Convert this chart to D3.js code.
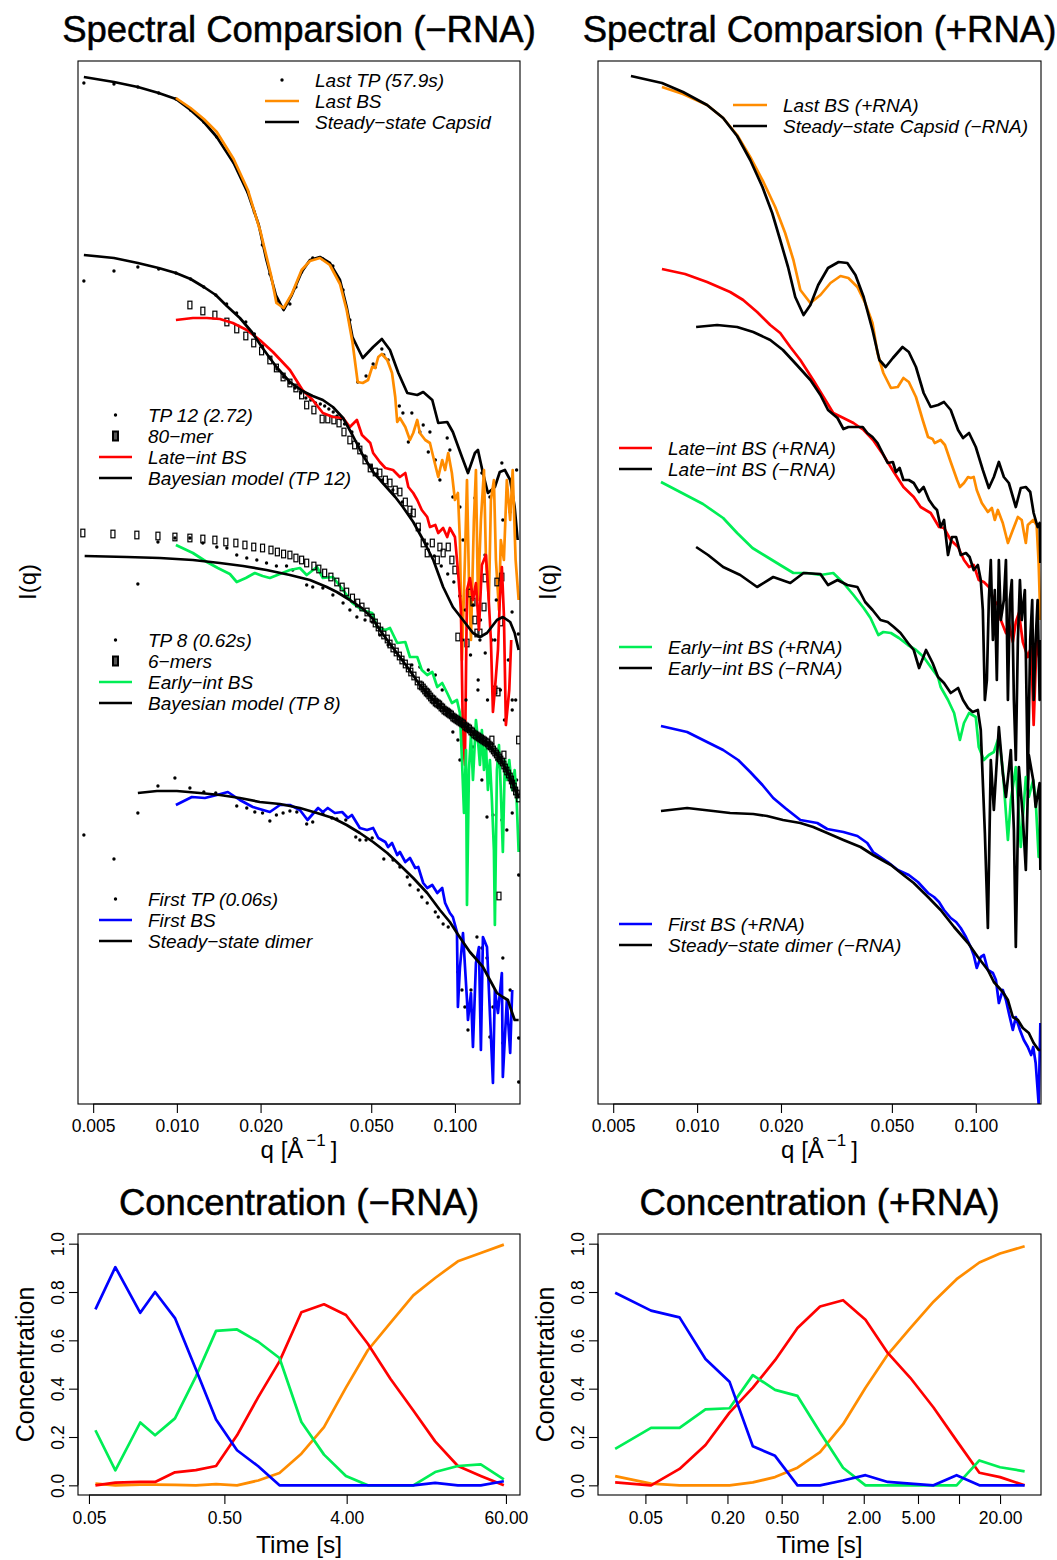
<!DOCTYPE html>
<html>
<head>
<meta charset="utf-8">
<script src="https://cdn.jsdelivr.net/npm/d3@7"></script>
<style>
  body { margin: 0; background: #fff; }
  svg text { font-family: "Liberation Sans", Arial, Helvetica, sans-serif; fill: #000; }
</style>
</head>
<body>
<svg id="fig" width="1057" height="1560"></svg>
<script>
// ---------------------------------------------------------------------------
// Scattering profiles: [q (1/Å), log10 I(q) with a vertical offset per stack]
// ---------------------------------------------------------------------------

// -RNA panel, top stack (last time point)
const lastTP = [[0.00463,10.21],[0.00594,10.20],[0.00724,10.17],[0.0086,10.11],[0.00992,10.05],[0.0112,9.94],[0.0125,9.82],[0.01392,9.67],[0.0160,9.42],[0.0180,9.12],[0.0190,8.92],[0.0203,8.59],[0.0216,8.30],[0.0229,8.03],[0.0242,7.96],[0.0255,8.00],[0.0268,8.17],[0.0281,8.32],[0.0308,8.46],[0.0335,8.45],[0.0364,8.38],[0.0396,8.14],[0.0419,7.84],[0.0447,7.22],[0.0479,7.28],[0.0508,7.40],[0.0517,7.37],[0.0546,7.55],[0.0555,7.49],[0.0575,7.44],[0.0631,6.98],[0.0650,6.91],[0.0680,6.62],[0.0700,6.91],[0.0732,6.81],[0.0748,6.72],[0.0769,6.79],[0.0802,6.52],[0.0813,6.72],[0.0850,6.44],[0.0883,6.24],[0.0938,6.66],[0.0959,6.54],[0.0983,6.07],[0.1042,5.97],[0.1069,5.64],[0.1114,5.14],[0.1180,6.06],[0.1230,4.64],[0.1250,6.31],[0.1283,5.49],[0.1336,6.07],[0.1392,4.64],[0.1475,6.41],[0.1487,5.84],[0.1580,5.92],[0.1607,4.04],[0.1667,6.34]];
const lastBS = [[0.00992,10.06],[0.0112,9.96],[0.0125,9.85],[0.01392,9.72],[0.0160,9.45],[0.0180,9.14],[0.0200,8.72],[0.0218,8.29],[0.0228,8.01],[0.0242,7.96],[0.0259,8.10],[0.0281,8.34],[0.0301,8.43],[0.0327,8.46],[0.0355,8.39],[0.0386,8.20],[0.0408,7.94],[0.0428,7.62],[0.0447,7.22],[0.0466,7.21],[0.0487,7.24],[0.0504,7.37],[0.0517,7.36],[0.0530,7.47],[0.0546,7.50],[0.0571,7.44],[0.0594,7.31],[0.0610,7.07],[0.0620,6.82],[0.0634,6.86],[0.0663,6.77],[0.0689,6.64],[0.0708,6.71],[0.0732,6.84],[0.0748,6.71],[0.0782,6.64],[0.0813,6.61],[0.0836,6.47],[0.0871,6.27],[0.0900,6.44],[0.0922,6.34],[0.0946,6.51],[0.0975,6.31],[0.1000,6.04],[0.1025,6.11],[0.1042,5.64],[0.1060,4.44],[0.1086,5.44],[0.1105,6.24],[0.1123,5.24],[0.1142,4.64],[0.1170,5.84],[0.1190,6.34],[0.1210,5.04],[0.1240,5.84],[0.1272,6.34],[0.1293,5.44],[0.1325,5.04],[0.1347,6.04],[0.1381,6.24],[0.1404,5.44],[0.1440,4.94],[0.1462,5.64],[0.1500,5.44],[0.1537,6.24],[0.1580,5.84],[0.1613,6.34],[0.1653,5.44],[0.1695,5.04]];
const capsidSteady = [[0.00463,10.27],[0.00594,10.22],[0.00724,10.17],[0.0086,10.11],[0.00992,10.05],[0.0112,9.94],[0.0125,9.82],[0.01392,9.67],[0.0160,9.41],[0.0180,9.11],[0.0197,8.79],[0.0210,8.44],[0.0227,8.09],[0.0242,7.94],[0.0259,8.09],[0.0281,8.32],[0.0301,8.44],[0.0327,8.47],[0.0355,8.41],[0.0386,8.24],[0.0408,7.97],[0.0428,7.67],[0.0466,7.46],[0.0508,7.57],[0.0546,7.65],[0.0584,7.54],[0.0626,7.31],[0.0674,7.11],[0.0732,7.09],[0.0769,7.12],[0.0829,7.04],[0.0871,6.81],[0.0938,6.82],[0.0983,6.72],[0.106,6.47],[0.1114,6.31],[0.118,6.51],[0.121,6.54],[0.1261,6.31],[0.1314,6.11],[0.1392,6.17],[0.145,6.32],[0.1512,6.34],[0.158,6.24],[0.164,5.97],[0.1681,5.64]];

// -RNA panel, second stack (TP 12)
const tp12 = [[0.00463,8.23],[0.00594,8.33],[0.00724,8.37],[0.0086,8.35],[0.00992,8.31],[0.0112,8.25],[0.0125,8.17],[0.0138,8.09],[0.0151,8.00],[0.0164,7.91],[0.0177,7.82],[0.0190,7.70],[0.0203,7.58],[0.0216,7.46],[0.0229,7.35],[0.0242,7.27],[0.0254,7.21],[0.0266,7.16],[0.0279,7.11],[0.0291,7.06],[0.0303,7.04],[0.0315,7.01],[0.0328,7.00],[0.0340,6.98],[0.0352,6.95],[0.0365,6.92],[0.0377,6.88],[0.0389,6.85],[0.0401,6.80],[0.0426,6.72],[0.0450,6.60],[0.0475,6.48],[0.0500,6.38],[0.0524,6.30],[0.0549,6.24],[0.0598,6.14],[0.0647,6.02],[0.0696,5.88],[0.0745,5.74],[0.0794,5.60],[0.0843,5.48],[0.0893,5.38],[0.0942,5.30],[0.0991,5.22],[0.1040,5.08],[0.1065,4.64],[0.1090,4.94],[0.1138,4.49],[0.1163,4.99],[0.1212,4.24],[0.1236,4.84],[0.1285,4.51],[0.1310,4.04],[0.1359,4.64],[0.1408,5.04],[0.1457,4.14],[0.1507,3.84],[0.1556,4.44],[0.1605,4.92],[0.1654,4.04],[0.1690,4.70]];
const mer80 = [[0.01114,7.99],[0.0124,7.93],[0.0137,7.89],[0.01513,7.82],[0.01642,7.75],[0.0177,7.68],[0.0189,7.61],[0.02017,7.53],[0.0216,7.44],[0.0228,7.36],[0.0241,7.27],[0.0255,7.21],[0.0268,7.16],[0.0281,7.09],[0.0293,6.99],[0.0311,6.94],[0.0333,6.85],[0.0349,6.85],[0.0367,6.84],[0.0383,6.81],[0.0399,6.72],[0.0419,6.64],[0.0436,6.59],[0.0455,6.54],[0.0475,6.44],[0.0496,6.36],[0.0517,6.32],[0.0537,6.31],[0.0562,6.24],[0.0584,6.21],[0.0610,6.14],[0.0634,6.12],[0.0663,6.02],[0.0689,5.94],[0.0708,5.91],[0.0738,5.77],[0.0769,5.61],[0.0795,5.51],[0.0829,5.61],[0.0864,5.44],[0.0883,5.57],[0.0907,5.51],[0.0946,5.57],[0.0975,5.44],[0.1000,5.34],[0.1025,4.67],[0.1105,4.61],[0.1132,5.11],[0.1161,5.02],[0.1180,4.84],[0.1200,4.71],[0.1230,4.71],[0.1272,4.97],[0.1283,5.26],[0.1392,4.14],[0.1428,4.12],[0.1462,4.82],[0.1475,5.27],[0.1416,5.22],[0.1358,3.64],[0.1500,3.49],[0.1695,3.64]];
const lateBS = [[0.00992,7.84],[0.01142,7.86],[0.01282,7.86],[0.01428,7.85],[0.0159,7.81],[0.01784,7.74],[0.01987,7.64],[0.02216,7.52],[0.0255,7.34],[0.0283,7.14],[0.0308,7.04],[0.0335,6.91],[0.0364,6.87],[0.0396,6.86],[0.0419,6.77],[0.0444,6.84],[0.0463,6.69],[0.0496,6.61],[0.0508,6.51],[0.0537,6.42],[0.0562,6.36],[0.0599,6.34],[0.0634,6.27],[0.0663,6.31],[0.0680,6.17],[0.0708,6.11],[0.0732,6.04],[0.0760,5.94],[0.0795,5.87],[0.0813,5.77],[0.0850,5.79],[0.0871,5.71],[0.0907,5.76],[0.0938,5.67],[0.0959,5.76],[0.1000,5.67],[0.1025,5.34],[0.1051,4.94],[0.1069,3.64],[0.1086,3.39],[0.1105,5.14],[0.1132,5.26],[0.1161,5.04],[0.1190,5.21],[0.1220,4.74],[0.1250,5.39],[0.1293,5.49],[0.1314,5.19],[0.1347,4.64],[0.1370,3.92],[0.1392,4.14],[0.1428,4.54],[0.1450,5.04],[0.1475,5.37],[0.1500,4.89],[0.1525,3.79],[0.1568,4.14],[0.1594,4.64]];
const bayesTP12 = [[0.00463,8.49],[0.00594,8.46],[0.00724,8.41],[0.0086,8.36],[0.00992,8.31],[0.0112,8.25],[0.0125,8.17],[0.0138,8.09],[0.01513,7.98],[0.01685,7.86],[0.0186,7.72],[0.02033,7.56],[0.0228,7.37],[0.0255,7.22],[0.0283,7.13],[0.0308,7.08],[0.0335,7.04],[0.0364,6.97],[0.0396,6.86],[0.0428,6.69],[0.0466,6.49],[0.0508,6.32],[0.0550,6.21],[0.0610,6.07],[0.0650,5.97],[0.0708,5.82],[0.0769,5.64],[0.0836,5.44],[0.0907,5.17],[0.0983,4.97],[0.1069,4.84],[0.1161,4.71],[0.1230,4.67],[0.1304,4.71],[0.1416,4.84],[0.1487,4.87],[0.1580,4.82],[0.1640,4.71],[0.1695,4.54]];

// -RNA panel, third stack (TP 8)
const tp8 = [[0.00724,5.20],[0.00855,5.62],[0.00984,5.66],[0.01114,5.66],[0.0124,5.61],[0.01392,5.57],[0.01513,5.56],[0.01642,5.49],[0.01784,5.46],[0.01939,5.44],[0.02101,5.41],[0.0228,5.38],[0.0248,5.38],[0.0261,5.34],[0.0293,5.19],[0.0308,5.17],[0.0335,5.16],[0.0364,5.09],[0.0396,5.01],[0.0419,4.94],[0.0444,4.87],[0.0475,4.84],[0.0504,4.82],[0.0537,4.69],[0.0575,4.59],[0.0610,4.52],[0.0650,4.44],[0.0700,4.39],[0.0748,4.37],[0.0802,4.34],[0.0850,4.29],[0.0900,4.14],[0.0946,3.94],[0.0983,3.72],[0.1025,3.64],[0.1042,3.44],[0.1096,4.04],[0.1161,3.57],[0.1210,4.14],[0.1250,3.24],[0.1304,2.87],[0.1370,2.89],[0.1416,3.44],[0.1475,2.84],[0.1537,2.74],[0.1607,2.91],[0.1607,3.94],[0.1667,3.24]];
const mer6 = [[0.00459,5.71],[0.00589,5.70],[0.00718,5.69],[0.00855,5.68],[0.00984,5.67],[0.01114,5.66],[0.0124,5.65],[0.0137,5.64],[0.0150,5.62],[0.0163,5.61],[0.01757,5.59],[0.0189,5.57],[0.02033,5.56],[0.0218,5.54],[0.02298,5.52],[0.0242,5.50],[0.0255,5.49],[0.0268,5.46],[0.0281,5.44],[0.0293,5.41],[0.0311,5.38],[0.0324,5.35],[0.0340,5.31],[0.0358,5.27],[0.0376,5.22],[0.0393,5.17],[0.0408,5.12],[0.0428,5.06],[0.0447,5.01],[0.0463,4.97],[0.0483,4.92],[0.0504,4.86],[0.0517,4.81],[0.0530,4.77],[0.0541,4.73],[0.0555,4.69],[0.0571,4.65],[0.0584,4.60],[0.0599,4.56],[0.0615,4.52],[0.0631,4.48],[0.0645,4.44],[0.0663,4.40],[0.0680,4.36],[0.0694,4.32],[0.0712,4.28],[0.0732,4.23],[0.0748,4.19],[0.0758,4.18],[0.0769,4.16],[0.0779,4.14],[0.0789,4.12],[0.0798,4.11],[0.0807,4.09],[0.0818,4.07],[0.0829,4.05],[0.0839,4.04],[0.0850,4.02],[0.0860,4.01],[0.0871,4.00],[0.0881,3.99],[0.0892,3.97],[0.0903,3.96],[0.0914,3.94],[0.0926,3.93],[0.0938,3.92],[0.0948,3.91],[0.0959,3.90],[0.0971,3.89],[0.0983,3.87],[0.0995,3.86],[0.1008,3.85],[0.1020,3.84],[0.1033,3.83],[0.1046,3.82],[0.1060,3.81],[0.1073,3.80],[0.1086,3.78],[0.1100,3.77],[0.1114,3.76],[0.1128,3.75],[0.1142,3.73],[0.1156,3.72],[0.1170,3.70],[0.1185,3.69],[0.1200,3.68],[0.1215,3.67],[0.1230,3.66],[0.1245,3.65],[0.1261,3.64],[0.1277,3.63],[0.1293,3.62],[0.1309,3.61],[0.1325,3.59],[0.1341,3.58],[0.1358,3.56],[0.1375,3.54],[0.1392,3.52],[0.1410,3.50],[0.1428,3.48],[0.1445,3.46],[0.1462,3.44],[0.1481,3.42],[0.1500,3.39],[0.1518,3.36],[0.1537,3.33],[0.1558,3.30],[0.1580,3.27],[0.1596,3.24],[0.1613,3.20],[0.1633,3.17],[0.1653,3.13],[0.1674,3.10],[0.1695,3.06],[0.1440,2.08]];
const earlyBS = [[0.00992,5.59],[0.01142,5.51],[0.01282,5.42],[0.01404,5.36],[0.01551,5.30],[0.01642,5.22],[0.0177,5.26],[0.01907,5.31],[0.02033,5.28],[0.0216,5.26],[0.02347,5.30],[0.0255,5.34],[0.0277,5.36],[0.0293,5.29],[0.0319,5.37],[0.0335,5.26],[0.0364,5.27],[0.0396,5.14],[0.0428,5.01],[0.0463,4.94],[0.0504,4.91],[0.0525,4.77],[0.0562,4.74],[0.0584,4.76],[0.0620,4.61],[0.0663,4.62],[0.0689,4.47],[0.0732,4.47],[0.0760,4.34],[0.0795,4.29],[0.0829,4.32],[0.0864,4.17],[0.0900,4.21],[0.0938,4.11],[0.0975,4.01],[0.1017,4.04],[0.1042,3.91],[0.1060,3.44],[0.1078,2.91],[0.1096,3.54],[0.1105,1.99],[0.1123,3.34],[0.1142,3.69],[0.1161,3.24],[0.1190,3.84],[0.1210,3.64],[0.1230,3.39],[0.1250,3.74],[0.1272,3.34],[0.1293,3.59],[0.1314,3.14],[0.1336,3.44],[0.1358,3.04],[0.1381,2.54],[0.1392,1.79],[0.1416,3.34],[0.1440,3.59],[0.1462,3.14],[0.1487,2.52],[0.1512,3.44],[0.1537,3.24],[0.1568,3.44],[0.1607,3.14],[0.1640,3.34],[0.1667,3.04],[0.1695,2.52]];
const bayesTP8 = [[0.00466,5.48],[0.00661,5.47],[0.00869,5.46],[0.01142,5.44],[0.01428,5.41],[0.0173,5.38],[0.02101,5.34],[0.0255,5.29],[0.0301,5.24],[0.0346,5.17],[0.0376,5.12],[0.0419,5.04],[0.0463,4.96],[0.0504,4.86],[0.0537,4.74],[0.0599,4.56],[0.0674,4.37],[0.0748,4.19],[0.0836,4.04],[0.0938,3.92],[0.1042,3.82],[0.1161,3.71],[0.1304,3.61],[0.1450,3.46],[0.1580,3.27],[0.1695,3.06]];

// -RNA panel, bottom stack (first time point)
const firstTP = [[0.00463,2.69],[0.00594,2.45],[0.00724,2.91],[0.00855,3.18],[0.00984,3.26],[0.01114,3.16],[0.0125,3.12],[0.0138,3.11],[0.01642,2.98],[0.01784,2.96],[0.01907,2.92],[0.02033,2.91],[0.0216,2.83],[0.0228,2.89],[0.0241,2.91],[0.0255,2.93],[0.0270,2.92],[0.0293,2.80],[0.0308,2.82],[0.0335,2.91],[0.0361,2.86],[0.0376,2.85],[0.0405,2.84],[0.0440,2.67],[0.0455,2.64],[0.0479,2.64],[0.0504,2.66],[0.0555,2.45],[0.0599,2.44],[0.0634,2.37],[0.0674,2.27],[0.0689,2.19],[0.0738,2.14],[0.0760,2.07],[0.0795,2.01],[0.0850,1.92],[0.0871,1.87],[0.0907,1.80],[0.0946,1.77],[0.1025,1.32],[0.1060,1.14],[0.1086,0.97],[0.1114,0.74],[0.1142,1.14],[0.1200,1.67],[0.1250,1.56],[0.1304,1.46],[0.1336,0.67],[0.1370,0.97],[0.1487,1.46],[0.1487,0.61],[0.1580,1.14],[0.1695,0.66],[0.1695,0.22],[0.1695,2.29]];
const firstBS = [[0.00992,2.99],[0.01132,3.07],[0.01261,3.06],[0.01392,3.09],[0.01525,3.12],[0.01685,3.04],[0.01876,2.97],[0.0216,2.92],[0.02347,2.99],[0.0255,2.99],[0.0277,2.94],[0.0295,2.84],[0.0322,2.96],[0.0335,2.92],[0.0349,2.96],[0.0370,2.91],[0.0393,2.92],[0.0412,2.86],[0.0426,2.89],[0.0455,2.76],[0.0483,2.74],[0.0508,2.76],[0.0530,2.66],[0.0562,2.62],[0.0575,2.57],[0.0594,2.61],[0.0620,2.49],[0.0634,2.52],[0.0663,2.42],[0.0689,2.46],[0.0720,2.36],[0.0738,2.37],[0.0769,2.21],[0.0795,2.16],[0.0829,2.19],[0.0864,2.11],[0.0900,2.16],[0.0922,2.01],[0.0959,1.91],[0.0983,1.87],[0.1017,1.72],[0.1025,0.97],[0.1042,1.36],[0.1069,1.71],[0.1105,1.04],[0.1114,0.84],[0.1142,1.11],[0.1161,0.57],[0.1190,1.41],[0.1220,1.57],[0.1240,0.54],[0.1261,1.67],[0.1304,1.57],[0.1314,1.37],[0.1370,0.21],[0.1392,1.14],[0.1428,0.91],[0.1475,1.31],[0.1487,0.27],[0.1537,1.04],[0.1580,0.51],[0.1607,1.14]];
const dimerSteady = [[0.00724,3.11],[0.00848,3.13],[0.0100,3.13],[0.0121,3.11],[0.01428,3.09],[0.01685,3.06],[0.01987,3.02],[0.02347,3.00],[0.0277,2.96],[0.0319,2.91],[0.0364,2.86],[0.0408,2.79],[0.0455,2.71],[0.0508,2.62],[0.0571,2.51],[0.0634,2.39],[0.0708,2.26],[0.0795,2.11],[0.0883,1.94],[0.0959,1.82],[0.1017,1.71],[0.1069,1.62],[0.1132,1.52],[0.1200,1.44],[0.1261,1.37],[0.1336,1.24],[0.1416,1.11],[0.1487,1.07],[0.1550,1.04],[0.1607,0.91],[0.1640,0.84],[0.1695,0.84]];

// +RNA panel basis spectra and their -RNA counterparts
const lastBSPlus = [[0.00748,10.17],[0.0089,10.10],[0.01086,9.99],[0.0124,9.86],[0.01392,9.69],[0.01551,9.47],[0.0173,9.22],[0.01907,8.97],[0.0207,8.71],[0.02216,8.44],[0.02347,8.14],[0.0255,8.01],[0.0277,8.09],[0.0301,8.21],[0.0327,8.28],[0.0349,8.26],[0.0376,8.17],[0.0401,8.01],[0.0426,7.81],[0.0444,7.51],[0.0466,7.31],[0.0496,7.16],[0.0525,7.17],[0.0550,7.26],[0.0575,7.22],[0.0610,7.07],[0.0645,6.84],[0.0674,6.67],[0.0700,6.65],[0.0712,6.61],[0.0748,6.64],[0.0775,6.59],[0.0813,6.42],[0.0857,6.24],[0.0877,6.17],[0.0907,6.21],[0.0938,6.27],[0.0959,6.26],[0.0983,6.27],[0.1008,6.14],[0.1051,6.01],[0.1105,5.92],[0.1142,5.96],[0.1170,5.84],[0.1200,5.94],[0.1250,5.81],[0.1304,5.61],[0.1358,5.74],[0.1416,5.87],[0.1462,5.84],[0.1487,5.72],[0.1512,5.61],[0.1537,5.79],[0.1607,5.84],[0.1653,5.79],[0.1681,5.41],[0.1705,4.84]];
const capsidMinus = [[0.00579,10.28],[0.00748,10.21],[0.0089,10.12],[0.01086,9.99],[0.0124,9.86],[0.01392,9.68],[0.01551,9.44],[0.01716,9.17],[0.0186,8.91],[0.01987,8.64],[0.0212,8.37],[0.0225,8.07],[0.0241,7.89],[0.0255,7.99],[0.0272,8.19],[0.0295,8.36],[0.0322,8.42],[0.0346,8.41],[0.0370,8.29],[0.0396,8.07],[0.0426,7.74],[0.0451,7.44],[0.0475,7.37],[0.0504,7.46],[0.0546,7.57],[0.0575,7.52],[0.0610,7.37],[0.0650,7.11],[0.0689,6.97],[0.0732,6.99],[0.0769,7.02],[0.0813,6.94],[0.0864,6.74],[0.0900,6.66],[0.0946,6.71],[0.1000,6.57],[0.1060,6.34],[0.1114,6.16],[0.1161,6.27],[0.1210,6.42],[0.1261,6.27],[0.1314,6.21],[0.1392,5.97],[0.1450,6.16],[0.1512,6.17],[0.1568,6.12],[0.1613,5.91],[0.1667,5.77],[0.1695,5.81],[0.1705,5.41]];
const lateBSPlus = [[0.00748,8.35],[0.00905,8.30],[0.01086,8.22],[0.01314,8.12],[0.01463,8.04],[0.01642,7.92],[0.0183,7.79],[0.01987,7.71],[0.0216,7.57],[0.02347,7.44],[0.0261,7.24],[0.0293,7.01],[0.0308,6.91],[0.0335,6.86],[0.0364,6.81],[0.0396,6.74],[0.0428,6.64],[0.0466,6.49],[0.0508,6.32],[0.0550,6.17],[0.0599,6.07],[0.0634,5.97],[0.0689,5.91],[0.0738,5.77],[0.0769,5.76],[0.0813,5.64],[0.0864,5.57],[0.0907,5.44],[0.0946,5.37],[0.0983,5.39],[0.1025,5.24],[0.1069,5.22],[0.1114,5.17],[0.1161,5.04],[0.1200,4.99],[0.1230,4.84],[0.1283,4.71],[0.1314,4.81],[0.1358,4.62],[0.1392,4.82],[0.1428,4.91],[0.1475,4.62],[0.1537,4.47],[0.1580,4.57],[0.1613,3.79],[0.1653,4.64],[0.1695,4.44],[0.1705,4.14]];
const lateBSMinus = [[0.00992,7.77],[0.0118,7.79],[0.01392,7.77],[0.0159,7.72],[0.0183,7.64],[0.02033,7.54],[0.0228,7.39],[0.0255,7.24],[0.0277,7.09],[0.0295,6.94],[0.0319,6.86],[0.0335,6.75],[0.0349,6.77],[0.0370,6.77],[0.0393,6.77],[0.0408,6.71],[0.0426,6.67],[0.0444,6.61],[0.0463,6.51],[0.0483,6.41],[0.0504,6.42],[0.0517,6.32],[0.0533,6.36],[0.0550,6.24],[0.0575,6.24],[0.0599,6.21],[0.0626,6.12],[0.0650,6.17],[0.0680,6.04],[0.0708,5.97],[0.0726,5.94],[0.0748,5.77],[0.0769,5.84],[0.0795,5.49],[0.0821,5.67],[0.0850,5.67],[0.0883,5.49],[0.0922,5.51],[0.0950,5.47],[0.0983,5.34],[0.1017,5.39],[0.1042,5.24],[0.1060,4.94],[0.1078,4.04],[0.1096,4.24],[0.1114,5.04],[0.1132,5.44],[0.1152,4.64],[0.1170,5.14],[0.1190,4.24],[0.1210,5.44],[0.1230,4.84],[0.1261,5.04],[0.1283,5.44],[0.1304,4.04],[0.1325,5.04],[0.1347,5.24],[0.1370,4.04],[0.1392,3.44],[0.1416,4.64],[0.1440,5.24],[0.1462,4.84],[0.1500,5.14],[0.1537,3.24],[0.1568,4.64],[0.1594,5.04],[0.1613,4.04],[0.1640,4.64],[0.1667,5.04],[0.1695,4.04],[0.1705,4.64]];
const earlyBSPlus = [[0.00742,6.22],[0.00869,6.12],[0.0105,6.00],[0.0124,5.86],[0.01392,5.71],[0.0158,5.56],[0.01784,5.47],[0.01987,5.39],[0.02216,5.31],[0.0248,5.31],[0.0277,5.29],[0.0308,5.31],[0.0335,5.21],[0.0364,5.09],[0.0396,4.96],[0.0419,4.86],[0.0447,4.69],[0.0466,4.72],[0.0496,4.71],[0.0530,4.66],[0.0571,4.59],[0.0610,4.54],[0.0650,4.47],[0.0689,4.37],[0.0732,4.27],[0.0748,4.17],[0.0795,4.04],[0.0836,3.91],[0.0877,3.64],[0.0907,3.81],[0.0946,3.91],[0.1000,3.87],[0.1025,3.57],[0.1069,3.44],[0.1114,3.49],[0.1161,3.52],[0.1210,3.67],[0.1250,3.34],[0.1304,2.64],[0.1336,3.04],[0.1392,3.37],[0.1450,2.57],[0.1512,3.27],[0.1550,3.07],[0.1607,3.24],[0.1640,3.04],[0.1681,2.47],[0.1705,2.84]];
const earlyBSMinus = [[0.00992,5.57],[0.01095,5.49],[0.0124,5.37],[0.01428,5.29],[0.01642,5.17],[0.01876,5.27],[0.0216,5.21],[0.0241,5.31],[0.0277,5.30],[0.0295,5.19],[0.0319,5.24],[0.0346,5.19],[0.0376,5.17],[0.0401,5.02],[0.0426,4.94],[0.0455,4.84],[0.0483,4.82],[0.0508,4.77],[0.0537,4.71],[0.0571,4.61],[0.0599,4.54],[0.0626,4.36],[0.0663,4.54],[0.0700,4.41],[0.0732,4.27],[0.0769,4.21],[0.0813,4.11],[0.0864,4.16],[0.0900,4.04],[0.0938,3.96],[0.0975,3.92],[0.1017,3.94],[0.1042,3.74],[0.1078,2.71],[0.1105,1.76],[0.1132,3.44],[0.1161,2.94],[0.1210,3.77],[0.1250,3.31],[0.1283,3.07],[0.1336,3.54],[0.1370,2.74],[0.1392,1.57],[0.1428,3.37],[0.1475,2.87],[0.1512,2.34],[0.1550,3.49],[0.1607,3.24],[0.1640,2.97],[0.1695,3.21],[0.1705,2.34]];
const firstBSPlus = [[0.00742,3.78],[0.00921,3.72],[0.01086,3.62],[0.0124,3.54],[0.01404,3.44],[0.01551,3.32],[0.01716,3.19],[0.01876,3.06],[0.0207,2.96],[0.02347,2.84],[0.0270,2.81],[0.0293,2.75],[0.0335,2.72],[0.0376,2.68],[0.0408,2.61],[0.0428,2.52],[0.0483,2.42],[0.0525,2.34],[0.0575,2.29],[0.0620,2.22],[0.0674,2.11],[0.0708,2.07],[0.0738,2.02],[0.0769,1.94],[0.0813,1.86],[0.0850,1.82],[0.0883,1.76],[0.0922,1.67],[0.0959,1.57],[0.0983,1.49],[0.1008,1.36],[0.1042,1.47],[0.1069,1.49],[0.1105,1.34],[0.1152,1.31],[0.1181,1.24],[0.1210,1.01],[0.1250,1.14],[0.1283,1.04],[0.1314,0.91],[0.1358,0.74],[0.1392,0.87],[0.1440,0.74],[0.1487,0.64],[0.1537,0.57],[0.1580,0.49],[0.1607,0.57],[0.1640,0.41],[0.1681,0.0],[0.1705,0.81]];
const dimerMinus = [[0.00742,2.93],[0.00921,2.96],[0.01142,2.93],[0.01314,2.91],[0.0159,2.90],[0.01784,2.88],[0.02033,2.84],[0.02347,2.81],[0.0261,2.77],[0.0293,2.71],[0.0335,2.64],[0.0386,2.57],[0.0428,2.49],[0.0496,2.39],[0.0550,2.29],[0.0599,2.21],[0.0674,2.07],[0.0748,1.94],[0.0836,1.77],[0.0938,1.61],[0.1017,1.47],[0.1105,1.34],[0.1161,1.22],[0.1250,1.12],[0.1304,1.04],[0.1358,0.87],[0.1416,0.84],[0.1475,0.76],[0.1550,0.71],[0.1613,0.61],[0.1681,0.54],[0.1705,0.54]];

const qTicks = [0.005, 0.010, 0.020, 0.050, 0.100];
const qTickLabels = ["0.005", "0.010", "0.020", "0.050", "0.100"];

// ---------------------------------------------------------------------------
// Basis-spectrum concentrations over time
// ---------------------------------------------------------------------------
const timesMinus  = [0.0558, 0.0783, 0.1196, 0.1539, 0.2158, 0.3078, 0.434, 0.62, 0.889, 1.276, 1.852, 2.72, 3.95, 5.73, 8.41, 12.42, 18.0, 26.5, 39.1, 57.9];
const firstMinus  = [0.728, 0.903, 0.714, 0.800, 0.692, 0.480, 0.272, 0.145, 0.079, 0.000, 0.000, 0.000, 0.000, 0.000, 0.000, 0.000, 0.010, 0.000, 0.000, 0.017];
const earlyMinus  = [0.228, 0.062, 0.260, 0.207, 0.277, 0.450, 0.639, 0.645, 0.594, 0.527, 0.262, 0.127, 0.039, 0.000, 0.000, 0.000, 0.055, 0.080, 0.087, 0.025];
const lateMinus   = [0.000, 0.011, 0.014, 0.014, 0.054, 0.063, 0.080, 0.207, 0.365, 0.513, 0.716, 0.749, 0.705, 0.586, 0.441, 0.310, 0.182, 0.080, 0.039, 0.000];
const lastMinus   = [0.007, 0.000, 0.003, 0.003, 0.002, 0.000, 0.005, 0.000, 0.020, 0.051, 0.131, 0.241, 0.404, 0.559, 0.672, 0.786, 0.858, 0.927, 0.961, 0.996];

const timesPlus   = [0.030, 0.055, 0.089, 0.138, 0.207, 0.307, 0.447, 0.653, 0.956, 1.41, 2.06, 3.0, 4.39, 6.5, 9.6, 14.1, 20.0, 30.3];
const firstPlus   = [0.797, 0.723, 0.695, 0.523, 0.429, 0.162, 0.122, 0.000, 0.000, 0.020, 0.042, 0.014, 0.007, 0.000, 0.042, 0.000, 0.000, 0.000];
const earlyPlus   = [0.151, 0.238, 0.238, 0.314, 0.319, 0.456, 0.395, 0.370, 0.220, 0.073, 0.000, 0.000, 0.000, 0.000, 0.000, 0.103, 0.075, 0.058];
const latePlus    = [0.012, 0.000, 0.068, 0.167, 0.301, 0.404, 0.518, 0.651, 0.740, 0.766, 0.685, 0.548, 0.445, 0.322, 0.185, 0.052, 0.034, 0.000];
const lastPlus    = [0.038, 0.007, 0.000, 0.000, 0.000, 0.012, 0.034, 0.073, 0.137, 0.253, 0.404, 0.541, 0.651, 0.760, 0.853, 0.922, 0.959, 0.989];

const tTicksMinus = [0.05, 0.5, 4, 60];
const tLabelsMinus = ["0.05", "0.50", "4.00", "60.00"];
const tTicksPlus = [0.05, 0.1, 0.2, 0.5, 1, 2, 5, 10, 20];
const tLabelsPlus = ["0.05", "", "0.20", "0.50", "", "2.00", "5.00", "", "20.00"];
const concTicks = [0, 0.2, 0.4, 0.6, 0.8, 1.0];
const concTickLabels = ["0.0", "0.2", "0.4", "0.6", "0.8", "1.0"];

// ---------------------------------------------------------------------------
const COL = { orange: "#FF8C00", red: "#FF0000", green: "#00EE55", blue: "#0000FF", black: "#000000" };
const svg = d3.select("#fig");
const LW = 2.7;
const FONT = '"Liberation Sans", Arial, sans-serif';

function frame(g, x0, x1, y0, y1) {
  g.append("rect").attr("x", x0).attr("y", y0).attr("width", x1 - x0).attr("height", y1 - y0)
    .attr("fill", "none").attr("stroke", "#000").attr("stroke-width", 1.1);
}

function clipFor(id, x0, x1, y0, y1) {
  svg.append("defs").append("clipPath").attr("id", id)
    .append("rect").attr("x", x0).attr("y", y0).attr("width", x1 - x0).attr("height", y1 - y0);
  return svg.append("g").attr("clip-path", `url(#${id})`);
}

function bottomAxis(x, y, ticks, labels, tickLen, labelY) {
  const g = svg.append("g").attr("transform", `translate(0,${y})`);
  g.call(d3.axisBottom(x).tickValues(ticks).tickFormat((d, i) => labels[i]).tickSize(tickLen).tickSizeOuter(0));
  g.select(".domain").attr("d", `M${x(ticks[0])},0H${x(ticks[ticks.length - 1])}`).attr("stroke", "#000").attr("stroke-width", 1.1);
  g.selectAll(".tick line").attr("stroke", "#000").attr("stroke-width", 1.1);
  g.selectAll(".tick text").attr("y", labelY).attr("dy", 0).style("font-size", "17.5px").style("font-family", FONT);
  return g;
}

function title(x, y, text) {
  svg.append("text").attr("x", x).attr("y", y).attr("text-anchor", "middle")
    .style("font-size", "36.5px").attr("stroke", "#000").attr("stroke-width", 0.5).text(text);
}

// ----- spectral panels -----------------------------------------------------
function spectralPanel(opt) {
  const x = d3.scaleLog().domain([0.00441, 0.1714]).range([opt.x0, opt.x1]);
  const y = d3.scaleLinear().domain([0, 10.43]).range([1104, 61]);
  const line = d3.line().x(d => x(d[0])).y(d => y(d[1]));
  const plot = clipFor(opt.id, opt.x0, opt.x1, 61, 1104);

  opt.layers.forEach(L => {
    if (L.kind === "line") {
      plot.append("path").datum(L.data).attr("d", line).attr("fill", "none")
        .attr("stroke", L.color).attr("stroke-width", LW).attr("stroke-linejoin", "round");
    } else if (L.kind === "dot") {
      plot.append("g").selectAll("circle").data(L.data).join("circle")
        .attr("cx", d => x(d[0])).attr("cy", d => y(d[1])).attr("r", 1.7).attr("fill", "#000");
    } else if (L.kind === "rect") {
      plot.append("g").selectAll("rect").data(L.data).join("rect")
        .attr("x", d => x(d[0]) - 2).attr("y", d => y(d[1]) - 3.8).attr("width", 4).attr("height", 7.6)
        .attr("fill", "none").attr("stroke", "#000").attr("stroke-width", 1.2);
    }
  });

  frame(svg, opt.x0, opt.x1, 61, 1104);
  bottomAxis(x, 1104, qTicks, qTickLabels, 9, 28);

  title((opt.x0 + opt.x1) / 2, 42, opt.title);
  const xl = svg.append("text").attr("x", (opt.x0 + opt.x1) / 2).attr("y", 1158).attr("text-anchor", "middle")
    .style("font-size", "24px");
  xl.append("tspan").text("q [Å");
  xl.append("tspan").attr("dy", -12).attr("dx", 3).style("font-size", "17px").text("\u22121");
  xl.append("tspan").attr("dy", 12).attr("dx", 5).text("]");
  svg.append("text").attr("transform", `translate(${opt.x0 - 42},582) rotate(-90)`).attr("text-anchor", "middle")
    .style("font-size", "24px").text("I(q)");

  opt.legends.forEach(lg => legend(lg));
}

function legend(lg) {
  const g = svg.append("g");
  lg.items.forEach((it, i) => {
    const cy = lg.y + i * 21;
    const cx = (lg.sx0 + lg.sx1) / 2;
    if (it.kind === "line") {
      g.append("line").attr("x1", lg.sx0).attr("x2", lg.sx1).attr("y1", cy).attr("y2", cy)
        .attr("stroke", it.color).attr("stroke-width", LW);
    } else if (it.kind === "dot") {
      g.append("circle").attr("cx", cx).attr("cy", cy).attr("r", 1.7).attr("fill", "#000");
    } else if (it.kind === "rect") {
      g.append("rect").attr("x", cx - 2.5).attr("y", cy - 4.5).attr("width", 5).attr("height", 9)
        .attr("fill", "#555").attr("stroke", "#000").attr("stroke-width", 2);
    }
    g.append("text").attr("x", lg.tx).attr("y", cy + 6.8).style("font-size", "19px")
      .style("font-style", "italic").text(it.label);
  });
}

spectralPanel({
  id: "clipL", x0: 78, x1: 520, title: "Spectral Comparsion (\u2212RNA)",
  layers: [
    { kind: "dot", data: lastTP },
    { kind: "line", data: capsidSteady, color: COL.black },
    { kind: "line", data: lastBS, color: COL.orange },
    { kind: "dot", data: tp12 },
    { kind: "rect", data: mer80 },
    { kind: "line", data: lateBS, color: COL.red },
    { kind: "line", data: bayesTP12, color: COL.black },
    { kind: "dot", data: tp8 },
    { kind: "line", data: earlyBS, color: COL.green },
    { kind: "rect", data: mer6 },
    { kind: "line", data: bayesTP8, color: COL.black },
    { kind: "dot", data: firstTP },
    { kind: "line", data: firstBS, color: COL.blue },
    { kind: "line", data: dimerSteady, color: COL.black }
  ],
  legends: [
    { y: 80, sx0: 265, sx1: 299, tx: 315, items: [
      { kind: "dot", label: "Last TP (57.9s)" },
      { kind: "line", color: COL.orange, label: "Last BS" },
      { kind: "line", color: COL.black, label: "Steady\u2212state Capsid" } ] },
    { y: 415, sx0: 99, sx1: 132, tx: 148, items: [
      { kind: "dot", label: "TP 12 (2.72)" },
      { kind: "rect", label: "80\u2212mer" },
      { kind: "line", color: COL.red, label: "Late\u2212int BS" },
      { kind: "line", color: COL.black, label: "Bayesian model (TP 12)" } ] },
    { y: 640, sx0: 99, sx1: 132, tx: 148, items: [
      { kind: "dot", label: "TP 8 (0.62s)" },
      { kind: "rect", label: "6\u2212mers" },
      { kind: "line", color: COL.green, label: "Early\u2212int BS" },
      { kind: "line", color: COL.black, label: "Bayesian model (TP 8)" } ] },
    { y: 899, sx0: 99, sx1: 132, tx: 148, items: [
      { kind: "dot", label: "First TP (0.06s)" },
      { kind: "line", color: COL.blue, label: "First BS" },
      { kind: "line", color: COL.black, label: "Steady\u2212state dimer" } ] }
  ]
});

spectralPanel({
  id: "clipR", x0: 598, x1: 1041, title: "Spectral Comparsion (+RNA)",
  layers: [
    { kind: "line", data: lastBSPlus, color: COL.orange },
    { kind: "line", data: capsidMinus, color: COL.black },
    { kind: "line", data: lateBSPlus, color: COL.red },
    { kind: "line", data: lateBSMinus, color: COL.black },
    { kind: "line", data: earlyBSPlus, color: COL.green },
    { kind: "line", data: earlyBSMinus, color: COL.black },
    { kind: "line", data: firstBSPlus, color: COL.blue },
    { kind: "line", data: dimerMinus, color: COL.black }
  ],
  legends: [
    { y: 105, sx0: 733, sx1: 767, tx: 783, items: [
      { kind: "line", color: COL.orange, label: "Last BS (+RNA)" },
      { kind: "line", color: COL.black, label: "Steady\u2212state Capsid (\u2212RNA)" } ] },
    { y: 448, sx0: 619, sx1: 652, tx: 668, items: [
      { kind: "line", color: COL.red, label: "Late\u2212int BS (+RNA)" },
      { kind: "line", color: COL.black, label: "Late\u2212int BS (\u2212RNA)" } ] },
    { y: 647, sx0: 619, sx1: 652, tx: 668, items: [
      { kind: "line", color: COL.green, label: "Early\u2212int BS (+RNA)" },
      { kind: "line", color: COL.black, label: "Early\u2212int BS (\u2212RNA)" } ] },
    { y: 924, sx0: 619, sx1: 652, tx: 668, items: [
      { kind: "line", color: COL.blue, label: "First BS (+RNA)" },
      { kind: "line", color: COL.black, label: "Steady\u2212state dimer (\u2212RNA)" } ] }
  ]
});

// ----- concentration panels -------------------------------------------------
function concPanel(opt) {
  const x = d3.scaleLog().domain(opt.tDomain).range([opt.x0, opt.x1]);
  const y = d3.scaleLinear().domain([-0.04, 1.04]).range([1495, 1234]);
  const plot = clipFor(opt.id, opt.x0, opt.x1, 1234, 1495);
  const series = [
    { v: opt.last, c: COL.orange },
    { v: opt.late, c: COL.red },
    { v: opt.early, c: COL.green },
    { v: opt.first, c: COL.blue }
  ];
  series.forEach(s => {
    const line = d3.line().x((d, i) => x(opt.times[i])).y(d => y(d));
    plot.append("path").datum(s.v).attr("d", line).attr("fill", "none")
      .attr("stroke", s.c).attr("stroke-width", LW).attr("stroke-linejoin", "round");
  });
  frame(svg, opt.x0, opt.x1, 1234, 1495);
  bottomAxis(x, 1495, opt.ticks, opt.labels, 9, 29);

  const ya = svg.append("g").attr("transform", `translate(${opt.x0},0)`);
  ya.call(d3.axisLeft(y).tickValues(concTicks).tickFormat((d, i) => concTickLabels[i]).tickSize(9).tickSizeOuter(0));
  ya.select(".domain").attr("d", `M0,${y(0)}V${y(1)}`).attr("stroke", "#000").attr("stroke-width", 1.1);
  ya.selectAll(".tick line").attr("stroke", "#000").attr("stroke-width", 1.1);
  ya.selectAll(".tick text").attr("transform", "rotate(-90)").attr("x", 0).attr("y", -14).attr("dy", 0)
    .attr("text-anchor", "middle").style("font-size", "17.5px").style("font-family", FONT);

  title((opt.x0 + opt.x1) / 2, 1215, opt.title);
  svg.append("text").attr("x", (opt.x0 + opt.x1) / 2).attr("y", 1553).attr("text-anchor", "middle")
    .style("font-size", "24.5px").text("Time [s]");
  svg.append("text").attr("transform", `translate(${opt.x0 - 44},1364.5) rotate(-90)`).attr("text-anchor", "middle")
    .style("font-size", "25px").text("Concentration");
}

concPanel({
  id: "clipCL", x0: 78, x1: 520, tDomain: [0.0415, 76.2], title: "Concentration (\u2212RNA)",
  times: timesMinus, first: firstMinus, early: earlyMinus, late: lateMinus, last: lastMinus,
  ticks: tTicksMinus, labels: tLabelsMinus
});
concPanel({
  id: "clipCR", x0: 598, x1: 1041, tDomain: [0.02245, 39.95], title: "Concentration (+RNA)",
  times: timesPlus, first: firstPlus, early: earlyPlus, late: latePlus, last: lastPlus,
  ticks: tTicksPlus, labels: tLabelsPlus
});
</script>
</body>
</html>
